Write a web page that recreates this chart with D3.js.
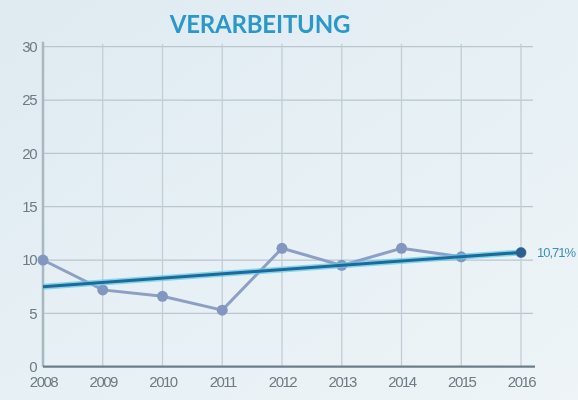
<!DOCTYPE html>
<html><head><meta charset="utf-8">
<script src="https://cdn.jsdelivr.net/npm/d3@7"></script>
<style>
html,body{margin:0;padding:0;overflow:hidden;}
body{width:578px;height:400px;}
</style></head>
<body>
<svg id="c" width="578" height="400"></svg>
<script>
const years = [2008, 2009, 2010, 2011, 2012, 2013, 2014, 2015, 2016];
const values = [10.0, 7.2, 6.6, 5.3, 11.1, 9.5, 11.1, 10.3, 10.7];
const trendStart = 7.5;
const trendEnd = 10.71;
const yTicks = [0, 5, 10, 15, 20, 25, 30];
const title = "VERARBEITUNG";
const endLabel = "10,71%";

const svg = d3.select("#c");
const defs = svg.append("defs");
const bg = defs.append("linearGradient").attr("id","bg").attr("x1","0").attr("y1","0").attr("x2","1").attr("y2","1");
bg.append("stop").attr("offset","0").attr("stop-color","#dfeaf1");
bg.append("stop").attr("offset","0.5").attr("stop-color","#e6f0f5");
bg.append("stop").attr("offset","1").attr("stop-color","#eef4f7");
svg.append("rect").attr("width",578).attr("height",400).attr("fill","url(#bg)");
defs.append("filter").attr("id","blur").append("feGaussianBlur").attr("stdDeviation",0.6);

const x = d3.scalePoint().domain(years).range([43, 521]);
const y = d3.scaleLinear().domain([0, 30]).range([366.7, 46.7]);
const right = 533;

const g = svg.append("g").attr("filter","url(#blur)");

// horizontal grid
g.append("g").selectAll("line").data(yTicks.filter(d=>d>0)).join("line")
  .attr("x1", 43).attr("x2", right)
  .attr("y1", d=>y(d)).attr("y2", d=>y(d))
  .attr("stroke","#b9c6cf").attr("stroke-width",1.3);
// vertical grid
g.append("g").selectAll("line").data(years.slice(1)).join("line")
  .attr("x1", d=>x(d)).attr("x2", d=>x(d))
  .attr("y1", y(30)-3).attr("y2", y(0))
  .attr("stroke","#c2cdd5").attr("stroke-width",1.3);

// axes
const yAxis = d3.axisLeft(y).tickValues(yTicks).tickSize(0).tickPadding(7);
const ya = g.append("g").attr("transform","translate(43,0)").call(yAxis);
ya.select(".domain").attr("stroke","#a9b7c0").attr("stroke-width",2.5).attr("d",`M0,${y(30)-5}V${y(0)}`);
ya.selectAll("text").attr("fill","#6f7b83").attr("font-family","Liberation Sans, Arial, sans-serif").attr("font-size",15).attr("letter-spacing","-1.5");

const xAxis = d3.axisBottom(x).tickSize(0).tickPadding(10).tickFormat(d=>String(d));
const xa = g.append("g").attr("transform",`translate(0,${y(0)})`).call(xAxis);
xa.select(".domain").attr("stroke","#6d7e8a").attr("stroke-width",2.2).attr("d",`M43,0H${right+2}`);
xa.selectAll("text").attr("fill","#6f7b83").attr("font-family","Liberation Sans, Arial, sans-serif").attr("font-size",15).attr("letter-spacing","-1.5");

// data line
const line = d3.line().x((d,i)=>x(years[i])).y(d=>y(d));
g.append("path").datum(values).attr("d", line).attr("fill","none")
  .attr("stroke","#8d9fc4").attr("stroke-width",3);
g.append("g").selectAll("circle").data(values).join("circle")
  .attr("cx",(d,i)=>x(years[i])).attr("cy",d=>y(d)).attr("r",5.5)
  .attr("fill","#8396bf");

// trend line
const trend = [[years[0], trendStart],[years[years.length-1], trendEnd]];
g.append("path").datum(trend).attr("d", d3.line().x(d=>x(d[0])).y(d=>y(d[1])))
  .attr("stroke","#5ec8ea").attr("stroke-width",6).attr("fill","none").attr("opacity",0.7);
g.append("path").datum(trend).attr("d", d3.line().x(d=>x(d[0])).y(d=>y(d[1])))
  .attr("stroke","#1e6a98").attr("stroke-width",3).attr("fill","none");
g.append("circle").attr("cx", x(2016)).attr("cy", y(trendEnd)).attr("r",5).attr("fill","#2a5f8e");

// end label
g.append("text").attr("x", 537).attr("y", y(trendEnd)+5).text(endLabel)
  .attr("fill","#3d8fbf").attr("font-family","Liberation Sans, Arial, sans-serif").attr("font-size",13).attr("letter-spacing","-1");

// title
g.append("text").attr("x", 260).attr("y", 33).attr("text-anchor","middle").text(title)
  .attr("fill","#2c98c9").attr("font-family","Lato, sans-serif").attr("font-size",24).attr("font-weight","bold").attr("letter-spacing","-0.2");
</script>
</body></html>
